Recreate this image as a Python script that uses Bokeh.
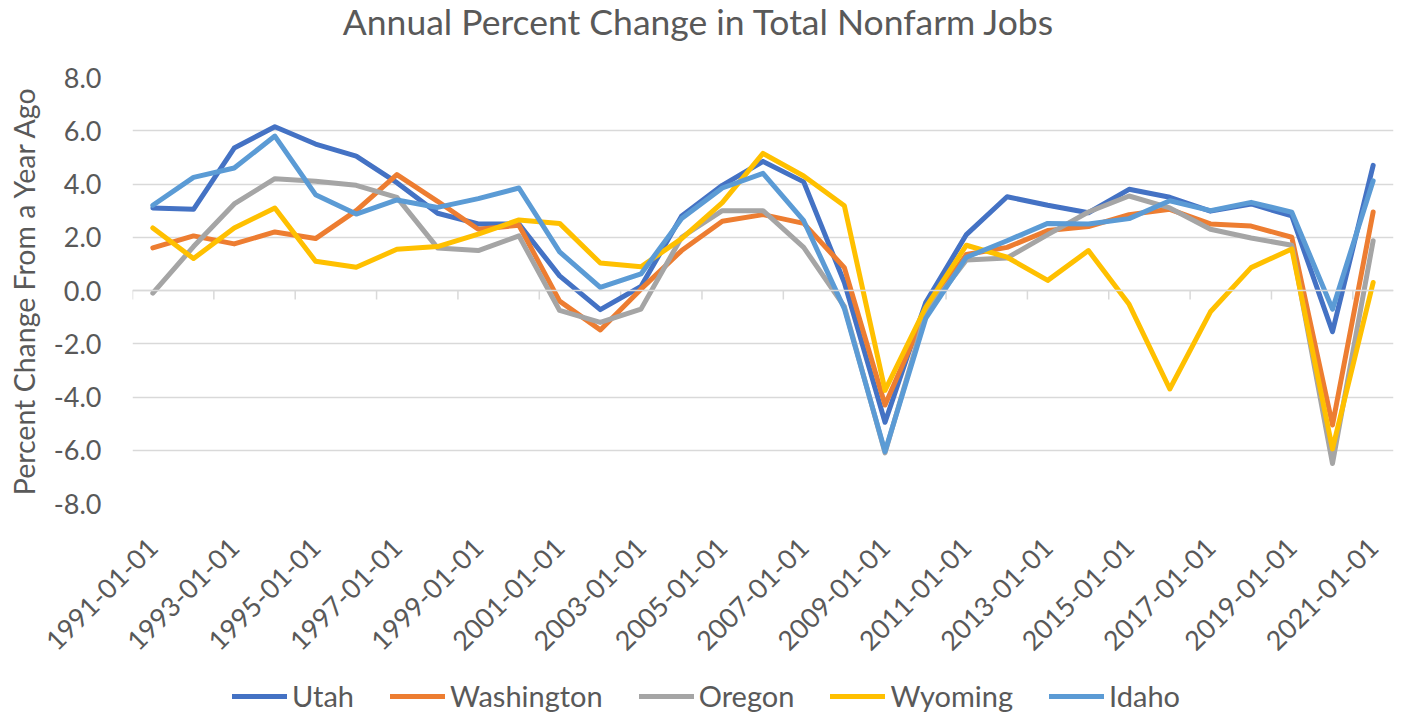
import math
from bokeh.plotting import figure
from bokeh.layouts import column
from bokeh.models import (Range1d, FixedTicker, NumeralTickFormatter, Span, Legend,
                          LegendItem, ColumnDataSource, Label)
from bokeh.embed import file_html
from bokeh.resources import INLINE

# ---------------- data ----------------
years = list(range(1991, 2022))
date_labels = [f"{y}-01-01" for y in years]

utah = [3.1, 3.05, 5.35, 6.15, 5.5, 5.05, 4.05, 2.9, 2.5, 2.5, 0.55, -0.72, 0.15, 2.8, 3.95,
        4.85, 4.08, 0.3, -4.95, -0.45, 2.1, 3.52, 3.2, 2.92, 3.8, 3.5, 2.98, 3.25, 2.8, -1.55, 4.7]
washington = [1.6, 2.05, 1.75, 2.2, 1.95, 3.0, 4.35, 3.35, 2.3, 2.45, -0.4, -1.48, 0.05, 1.5, 2.6,
              2.85, 2.52, 0.86, -4.3, -0.8, 1.35, 1.62, 2.25, 2.4, 2.85, 3.05, 2.5, 2.42, 2.0, -5.05, 2.95]
oregon = [-0.1, 1.65, 3.25, 4.2, 4.1, 3.95, 3.5, 1.6, 1.5, 2.05, -0.75, -1.2, -0.7, 2.0, 3.0,
          3.0, 1.62, -0.6, -6.1, -0.85, 1.15, 1.22, 2.1, 2.95, 3.55, 3.1, 2.3, 1.97, 1.7, -6.5, 1.87]
wyoming = [2.35, 1.2, 2.35, 3.1, 1.1, 0.87, 1.55, 1.65, 2.12, 2.65, 2.52, 1.03, 0.89, 1.95, 3.3,
           5.15, 4.3, 3.18, -3.75, -0.63, 1.7, 1.25, 0.38, 1.5, -0.52, -3.7, -0.8, 0.86, 1.56, -5.95, 0.3]
idaho = [3.2, 4.25, 4.6, 5.8, 3.6, 2.87, 3.4, 3.12, 3.45, 3.85, 1.45, 0.12, 0.62, 2.7, 3.85,
         4.4, 2.62, -0.68, -6.05, -1.05, 1.25, 1.87, 2.52, 2.5, 2.7, 3.37, 3.0, 3.31, 2.94, -0.7, 4.12]

series_names = ["Utah", "Washington", "Oregon", "Wyoming", "Idaho"]
series_values = [utah, washington, oregon, wyoming, idaho]
series_colors = ["#4472C4", "#ED7D31", "#A5A5A5", "#FFC000", "#5B9BD5"]

y_ticks = [-8, -6, -4, -2, 0, 2, 4, 6, 8]
title_text = "Annual Percent Change in Total Nonfarm Jobs"

# ---------------- layout sizes ----------------
FONT = "Lato"
TXT = "#595959"
W = 1402
H_TITLE, H_MAIN, H_LEG = 45, 620, 55
FRAME_LEFT, FRAME_RIGHT = 132, 9


def strip(height):
    f = figure(width=W, height=height, output_backend="svg", toolbar_location=None,
               x_range=Range1d(0, 1), y_range=Range1d(0, 1),
               min_border=0, min_border_left=FRAME_LEFT, min_border_right=FRAME_RIGHT,
               min_border_top=0, min_border_bottom=0)
    f.axis.visible = False
    f.grid.visible = False
    f.outline_line_color = None
    f.background_fill_color = "white"
    f.border_fill_color = "white"
    return f


# ---------------- title strip ----------------
tt = strip(H_TITLE)
tt.add_layout(Label(x=698.5 - FRAME_LEFT, y=H_TITLE - 21, x_units="screen", y_units="screen",
                    text=title_text, text_align="center", text_baseline="middle",
                    text_font=FONT, text_font_size="35.5px", text_color=TXT))

# ---------------- main figure ----------------
n = len(years)
xs = list(range(n))

p = figure(width=W, height=H_MAIN, output_backend="svg", toolbar_location=None,
           x_range=Range1d(-0.5, n - 0.5), y_range=Range1d(-8, 8),
           min_border_left=FRAME_LEFT, min_border_right=FRAME_RIGHT,
           min_border_top=77 - H_TITLE, min_border_bottom=H_TITLE + H_MAIN - 503)
p.outline_line_color = None
p.background_fill_color = "white"
p.border_fill_color = "white"

p.xgrid.visible = False
p.ygrid.ticker = FixedTicker(ticks=y_ticks)
p.ygrid.grid_line_color = "#D9D9D9"
p.ygrid.grid_line_width = 1.5

ya = p.yaxis[0]
ya.ticker = FixedTicker(ticks=y_ticks)
ya.formatter = NumeralTickFormatter(format="0.0")
ya.axis_line_color = None
ya.major_tick_line_color = None
ya.minor_tick_line_color = None
ya.major_tick_out = 0
ya.major_tick_in = 0
ya.major_label_standoff = 31
ya.major_label_text_font = FONT
ya.major_label_text_font_size = "27px"
ya.major_label_text_color = TXT
ya.axis_label = "Percent Change From a Year Ago"
ya.axis_label_text_font = FONT
ya.axis_label_text_font_size = "28.5px"
ya.axis_label_text_font_style = "normal"
ya.axis_label_text_color = TXT
ya.axis_label_standoff = 10

xa = p.xaxis[0]
label_idx = list(range(0, n, 2))
xa.ticker = FixedTicker(ticks=label_idx)
xa.major_label_overrides = {i: date_labels[i] for i in label_idx}
xa.major_label_orientation = math.pi / 4
xa.axis_line_color = None
xa.major_tick_line_color = None
xa.minor_tick_line_color = None
xa.major_tick_out = 0
xa.major_tick_in = 0
xa.major_label_standoff = 39
xa.major_label_text_font = FONT
xa.major_label_text_font_size = "27px"
xa.major_label_text_color = TXT

# category axis crossing at zero, with tick marks between categories
p.add_layout(Span(location=0, dimension="width", line_color="#D9D9D9", line_width=1.5))
px_per_unit = 426 / 16.0
tick_len = 9 / px_per_unit
bx = [i - 0.5 for i in range(0, n, 2)]
p.segment(x0=bx, x1=bx, y0=[0] * len(bx), y1=[-tick_len] * len(bx),
          line_color="#D9D9D9", line_width=1.5)

for name, vals, col in zip(series_names, series_values, series_colors):
    src = ColumnDataSource(dict(x=xs, y=vals))
    p.line("x", "y", source=src, line_color=col, line_width=5,
           line_join="round", line_cap="round")

# ---------------- legend strip ----------------
lg = strip(H_LEG)
lg.x_range = Range1d(-3, -2)  # series drawn here only to provide legend swatches
items = []
for name, vals, col in zip(series_names, series_values, series_colors):
    src = ColumnDataSource(dict(x=xs, y=vals))
    r = lg.line("x", "y", source=src, line_color=col, line_width=5, line_cap="round")
    items.append(LegendItem(label=name, renderers=[r]))

legend = Legend(items=items, orientation="horizontal", location=(232 - FRAME_LEFT, 7),
                glyph_width=55, glyph_height=24, label_height=24, label_standoff=5,
                spacing=36, padding=0, margin=0, border_line_color=None,
                background_fill_alpha=0, label_text_font=FONT,
                label_text_font_size="29px", label_text_color=TXT)
lg.add_layout(legend, "center")

layout = column(tt, p, lg, spacing=0)
open("out.html", "w").write(file_html(layout, INLINE))
